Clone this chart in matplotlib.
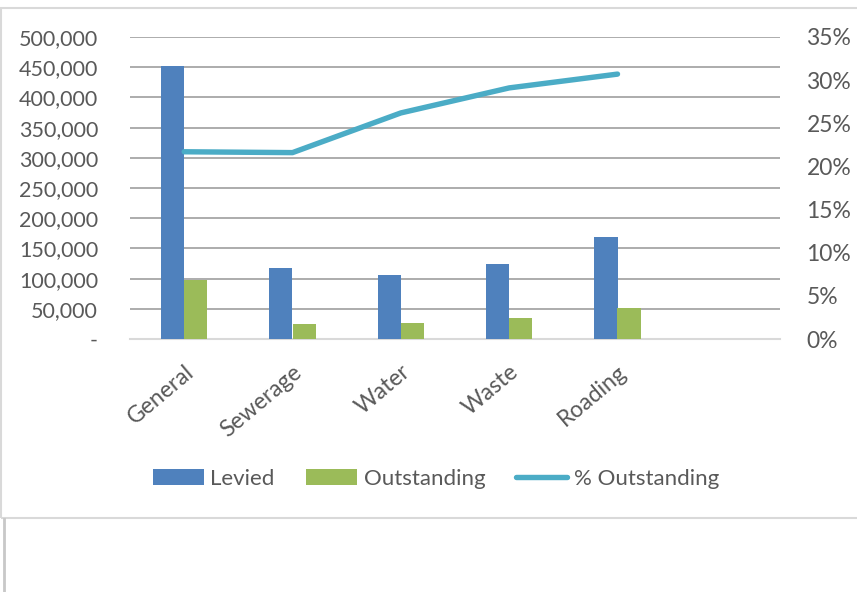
import numpy as np
import matplotlib.pyplot as plt
from matplotlib.patches import Rectangle
from matplotlib.lines import Line2D
from matplotlib.ticker import FuncFormatter

categories = ["General", "Sewerage", "Water", "Waste", "Roading", ""]
levied = [452000, 118000, 106000, 124000, 169000, np.nan]
outstanding = [98000, 25000, 27000, 35000, 51000, np.nan]
pct_outstanding = [21.7, 21.6, 26.2, 29.1, 30.7, np.nan]

blue = "#4f81bd"
green = "#9bbb59"
teal = "#4bacc6"
txt = "#595959"

plt.rcParams["font.family"] = ["Lato", "DejaVu Sans"]

fig = plt.figure(figsize=(8.57, 5.92), dpi=100)
W, H = 857, 592

# chart frame like an Excel chart box
fig.patches.append(Rectangle((1 / W, 1 - 518 / H), 858 / W, 510 / H, transform=fig.transFigure,
                             fill=False, edgecolor="#d9d9d9", linewidth=1.5))
fig.lines.append(Line2D([4 / W, 4 / W], [0, 1 - 519 / H], transform=fig.transFigure,
                        color="#c8c8c8", linewidth=2))

ax = fig.add_axes([130 / W, 1 - 339 / H, 650 / W, 302 / H])
x = np.arange(len(categories))
w = 0.213
ax.bar(x - w / 2, levied, w, color=blue, label="Levied", zorder=3)
ax.bar(x + w / 2, outstanding, w, color=green, label="Outstanding", zorder=3)
ax.set_xlim(-0.5, 5.5)
ax.set_ylim(0, 500000)
ax.set_yticks(np.arange(0, 500001, 50000))
ax.yaxis.set_major_formatter(FuncFormatter(lambda v, p: "-" if v == 0 else f"{v:,.0f}"))
ax.grid(axis="y", color="#a6a6a6", linewidth=1.3, zorder=0)
for s in ["top", "left", "right"]:
    ax.spines[s].set_visible(False)
ax.spines["bottom"].set_color("#d9d9d9")
ax.spines["bottom"].set_linewidth(1.5)
ax.tick_params(axis="x", length=0, colors=txt, labelsize=16.5, pad=16)
ax.tick_params(axis="y", length=0, colors=txt, labelsize=15.5, pad=23)
ax.set_xticks(x)
ax.set_xticklabels(categories, rotation=40, ha="right", va="top", rotation_mode="anchor")

ax2 = ax.twinx()
ax2.plot(x, pct_outstanding, color=teal, linewidth=3.9, solid_capstyle="round",
         label="% Outstanding", zorder=4)
ax2.set_ylim(0, 35)
ax2.set_yticks(np.arange(0, 36, 5))
ax2.yaxis.set_major_formatter(FuncFormatter(lambda v, p: f"{v:.0f}%"))
for s in ax2.spines.values():
    s.set_visible(False)
ax2.tick_params(axis="y", length=0, colors=txt, labelsize=16.5, pad=19)

h1, l1 = ax.get_legend_handles_labels()
h2, l2 = ax2.get_legend_handles_labels()
leg = fig.legend(h1 + h2, l1 + l2, loc="center", bbox_to_anchor=(436 / W, 1 - 479 / H),
                 ncol=3, frameon=False, fontsize=16, handlelength=2.3, handleheight=0.7,
                 handletextpad=0.3, columnspacing=1.4)
for t in leg.get_texts():
    t.set_color(txt)

fig.savefig("out.png", dpi=100)
